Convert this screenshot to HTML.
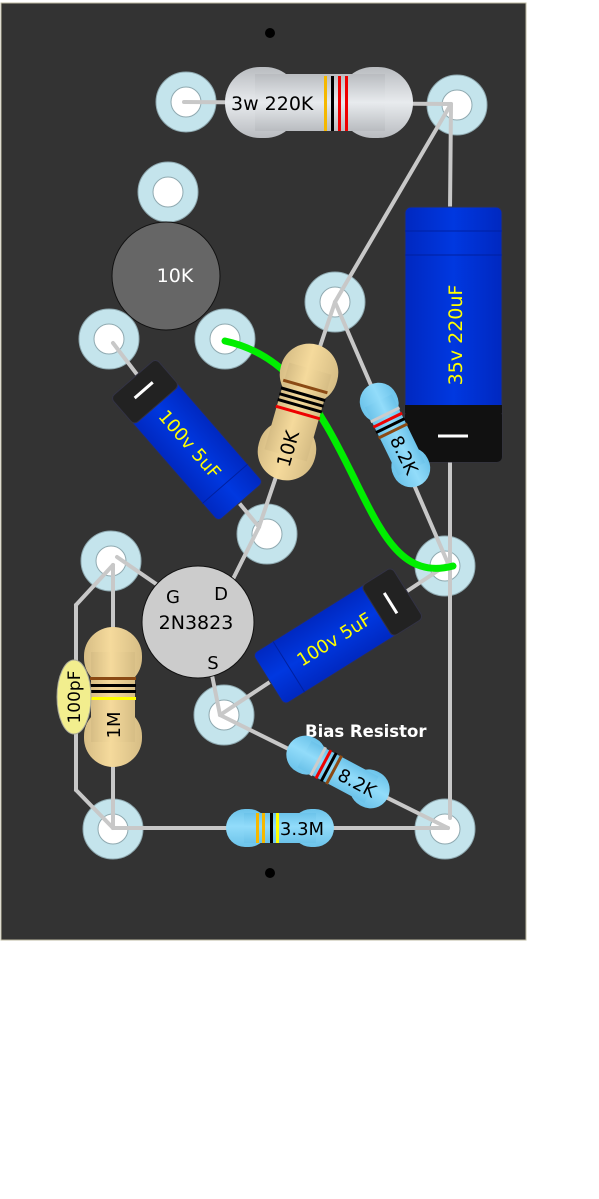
<!DOCTYPE html>
<html><head><meta charset="utf-8"><style>
body{margin:0;background:#fff;}
svg{display:block;font-family:"DejaVu Sans","Liberation Sans",sans-serif;}
</style></head><body>
<svg width="599" height="1199" viewBox="0 0 599 1199">
<defs>
<linearGradient id="gGrey" x1="0" y1="0" x2="0" y2="1"><stop offset="0" stop-color="#b9bcc0"/><stop offset="0.5" stop-color="#e8ebee"/><stop offset="1" stop-color="#b9bcc0"/></linearGradient>
<linearGradient id="gTan" x1="0" y1="0" x2="0" y2="1"><stop offset="0" stop-color="#d6bd85"/><stop offset="0.55" stop-color="#f5da9c"/><stop offset="1" stop-color="#d6bd85"/></linearGradient>
<linearGradient id="gBlue" x1="0" y1="0" x2="0" y2="1"><stop offset="0" stop-color="#6cc3ea"/><stop offset="0.45" stop-color="#92dcfa"/><stop offset="1" stop-color="#6cc3ea"/></linearGradient>
<linearGradient id="gCap" x1="0" y1="0" x2="0" y2="1"><stop offset="0" stop-color="#0028c0"/><stop offset="0.5" stop-color="#0038e0"/><stop offset="1" stop-color="#0028c0"/></linearGradient>
<linearGradient id="gCapV" x1="0" y1="0" x2="1" y2="0"><stop offset="0" stop-color="#0028c0"/><stop offset="0.5" stop-color="#0038e0"/><stop offset="1" stop-color="#0028c0"/></linearGradient>
</defs>
<rect x="1" y="3" width="525" height="937" fill="#333" stroke="#bdb9a0" stroke-width="1"/>
<circle cx="270" cy="33" r="5" fill="#000"/>
<circle cx="270" cy="873" r="5" fill="#000"/>

<g fill="#c4e4ec" stroke="#8fa9b0" stroke-width="1">
<circle cx="186" cy="102" r="30"/><circle cx="457" cy="105" r="30"/><circle cx="168" cy="192" r="30"/>
<circle cx="109" cy="339" r="30"/><circle cx="225" cy="339" r="30"/><circle cx="335" cy="302" r="30"/>
<circle cx="267" cy="534" r="30"/><circle cx="111" cy="561" r="30"/><circle cx="445" cy="566" r="30"/>
<circle cx="224" cy="715" r="30"/><circle cx="113" cy="829" r="30"/><circle cx="445" cy="829" r="30"/>
</g>
<g fill="#fff" stroke="#8fa9b0" stroke-width="1">
<circle cx="186" cy="102" r="15"/><circle cx="457" cy="105" r="15"/><circle cx="168" cy="192" r="15"/>
<circle cx="109" cy="339" r="15"/><circle cx="225" cy="339" r="15"/><circle cx="335" cy="302" r="15"/>
<circle cx="267" cy="534" r="15"/><circle cx="111" cy="561" r="15"/><circle cx="445" cy="566" r="15"/>
<circle cx="224" cy="715" r="15"/><circle cx="113" cy="829" r="15"/><circle cx="445" cy="829" r="15"/>
</g>

<g stroke="#c8c8c8" stroke-width="4" stroke-linecap="round" fill="none">
<line x1="184" y1="102" x2="451" y2="104"/>
<line x1="451" y1="104" x2="335" y2="302"/>
<line x1="451" y1="104" x2="450" y2="210"/>
<line x1="450" y1="460" x2="450" y2="818"/>
<line x1="335" y1="302" x2="298" y2="412"/>
<line x1="335" y1="302" x2="450" y2="568"/>
<line x1="298" y1="412" x2="259" y2="527"/>
<line x1="259" y1="527" x2="232" y2="581"/>
<line x1="113" y1="343" x2="187" y2="440"/>
<line x1="187" y1="440" x2="259" y2="527"/>
<line x1="117" y1="557" x2="162" y2="588"/>
<line x1="113" y1="565" x2="76" y2="605"/>
<line x1="76" y1="605" x2="76" y2="790"/>
<line x1="76" y1="790" x2="113" y2="828"/>
<line x1="113" y1="565" x2="113" y2="828"/>
<line x1="212" y1="675" x2="220" y2="715"/>
<line x1="220" y1="715" x2="448" y2="564"/>
<line x1="220" y1="715" x2="448" y2="828"/>
<line x1="113" y1="828" x2="448" y2="828"/>
</g>

<g>
<rect x="225" y="67" width="75" height="71" rx="35" fill="url(#gGrey)"/>
<rect x="338" y="67" width="75" height="71" rx="35" fill="url(#gGrey)"/>
<rect x="255" y="74" width="130" height="57" fill="url(#gGrey)"/>
<rect x="324" y="76" width="3" height="55" fill="#f5b800"/>
<rect x="331" y="76" width="3" height="55" fill="#000"/>
<rect x="338" y="76" width="3" height="55" fill="#e00"/>
<rect x="345" y="76" width="3" height="55" fill="#e00"/>
<text x="231" y="110" font-size="19" fill="#000">3w 220K</text>
</g>

<circle cx="166" cy="276" r="54" fill="#666" stroke="#111" stroke-width="1"/>
<text x="175" y="282" font-size="19" fill="#fff" text-anchor="middle">10K</text>

<g>
<rect x="405" y="207" width="97" height="255" rx="6" fill="url(#gCapV)" stroke="#334" stroke-width="1"/>
<rect x="405" y="410" width="97" height="52" rx="5" fill="#111"/>
<rect x="405" y="405" width="97" height="8" fill="#111"/>
<line x1="438" y1="436" x2="468" y2="436" stroke="#fff" stroke-width="3"/>
<line x1="405" y1="231" x2="502" y2="231" stroke="#0020a0" stroke-width="1"/>
<line x1="405" y1="255" x2="502" y2="255" stroke="#0020a0" stroke-width="1"/>
<text transform="translate(462,335) rotate(-90)" font-size="19" fill="#ff0" text-anchor="middle">35v 220uF</text>
</g>

<g transform="translate(187,440) rotate(49)">
<rect x="-82" y="-30" width="164" height="60" rx="5" fill="url(#gCap)" stroke="#334" stroke-width="1"/>
<rect x="-82" y="-30" width="36" height="60" rx="5" fill="#222" stroke="#334" stroke-width="1"/>
<line x1="-66" y1="-12" x2="-66" y2="12" stroke="#fff" stroke-width="3"/>
<line x1="58" y1="-30" x2="58" y2="30" stroke="#0020a0" stroke-width="1"/>
<text x="5" y="7" font-size="18" fill="#ff0" text-anchor="middle">100v 5uF</text>
</g>

<path d="M225,341 C290,355 320,410 350,470 C380,530 400,580 453,566" fill="none" stroke="#00ee00" stroke-width="7" stroke-linecap="round"/>

<g transform="translate(298,412) rotate(106)">
<rect x="-70" y="-29" width="60" height="58" rx="29" fill="url(#gTan)"/>
<rect x="10" y="-29" width="60" height="58" rx="29" fill="url(#gTan)"/>
<rect x="-45" y="-22" width="90" height="44" fill="url(#gTan)"/>
<rect x="-28" y="-23" width="3" height="46" fill="#8b4a14"/>
<rect x="-20" y="-23" width="3" height="46" fill="#000"/>
<rect x="-14" y="-23" width="3" height="46" fill="#000"/>
<rect x="-8" y="-23" width="3" height="46" fill="#000"/>
<rect x="-1" y="-23" width="3" height="46" fill="#e00"/>
<text transform="translate(38,0) rotate(180)" font-size="19" fill="#000" text-anchor="middle" dy="7">10K</text>
</g>

<g transform="translate(395,435) rotate(64)">
<rect x="-56" y="-19" width="40" height="38" rx="19" fill="url(#gBlue)"/>
<rect x="16" y="-19" width="40" height="38" rx="19" fill="url(#gBlue)"/>
<rect x="-38" y="-15" width="76" height="30" fill="url(#gBlue)"/>
<rect x="-24" y="-16" width="3" height="32" fill="#ccc"/>
<rect x="-18" y="-16" width="3" height="32" fill="#e00"/>
<rect x="-12" y="-16" width="3" height="32" fill="#000"/>
<rect x="-6" y="-16" width="3" height="32" fill="#8b4a14"/>
<text x="22" y="7" font-size="18" fill="#000" text-anchor="middle">8.2K</text>
</g>

<circle cx="198" cy="622" r="56" fill="#ccc" stroke="#111" stroke-width="1"/>
<text x="173" y="603" font-size="18" fill="#000" text-anchor="middle">G</text>
<text x="221" y="600" font-size="18" fill="#000" text-anchor="middle">D</text>
<text x="213" y="669" font-size="18" fill="#000" text-anchor="middle">S</text>
<text x="196" y="629" font-size="19" fill="#000" text-anchor="middle">2N3823</text>

<g transform="translate(113,697) rotate(90)">
<rect x="-70" y="-29" width="60" height="58" rx="29" fill="url(#gTan)"/>
<rect x="10" y="-29" width="60" height="58" rx="29" fill="url(#gTan)"/>
<rect x="-45" y="-22" width="90" height="44" fill="url(#gTan)"/>
<rect x="-20" y="-23" width="3" height="46" fill="#8b4a14"/>
<rect x="-13" y="-23" width="3" height="46" fill="#000"/>
<rect x="-7" y="-23" width="3" height="46" fill="#000"/>
<rect x="0" y="-23" width="3" height="46" fill="#ff0"/>
<text transform="translate(28,0) rotate(180)" font-size="18" fill="#000" text-anchor="middle" dy="7">1M</text>
</g>
<ellipse cx="74" cy="697" rx="17" ry="37" fill="#f2ee8e" stroke="#aa9" stroke-width="1"/>
<text transform="translate(80,697) rotate(-90)" font-size="17" fill="#000" text-anchor="middle">100pF</text>

<g transform="translate(338,636) rotate(-32)">
<rect x="-82" y="-30" width="164" height="60" rx="5" fill="url(#gCap)" stroke="#334" stroke-width="1"/>
<rect x="46" y="-30" width="36" height="60" rx="5" fill="#222" stroke="#334" stroke-width="1"/>
<line x1="62" y1="-12" x2="62" y2="12" stroke="#fff" stroke-width="3"/>
<line x1="-58" y1="-30" x2="-58" y2="30" stroke="#0020a0" stroke-width="1"/>
<text x="-5" y="7" font-size="18" fill="#ff0" text-anchor="middle">100v 5uF</text>
</g>

<text x="305" y="737" font-size="16.5" font-weight="bold" fill="#fff">Bias Resistor</text>
<g transform="translate(338,772) rotate(28)">
<rect x="-56" y="-19" width="40" height="38" rx="19" fill="url(#gBlue)"/>
<rect x="16" y="-19" width="40" height="38" rx="19" fill="url(#gBlue)"/>
<rect x="-38" y="-15" width="76" height="30" fill="url(#gBlue)"/>
<rect x="-24" y="-16" width="3" height="32" fill="#ccc"/>
<rect x="-18" y="-16" width="3" height="32" fill="#e00"/>
<rect x="-12" y="-16" width="3" height="32" fill="#000"/>
<rect x="-6" y="-16" width="3" height="32" fill="#8b4a14"/>
<text x="22" y="7" font-size="18" fill="#000" text-anchor="middle">8.2K</text>
</g>

<g transform="translate(280,828)">
<rect x="-54" y="-19" width="42" height="38" rx="19" fill="url(#gBlue)"/>
<rect x="12" y="-19" width="42" height="38" rx="19" fill="url(#gBlue)"/>
<rect x="-36" y="-15" width="72" height="30" fill="url(#gBlue)"/>
<rect x="-24" y="-15" width="3" height="30" fill="#f5b800"/>
<rect x="-18" y="-15" width="3" height="30" fill="#f5b800"/>
<rect x="-10" y="-15" width="3" height="30" fill="#000"/>
<rect x="-4" y="-15" width="3" height="30" fill="#ff0"/>
<text x="22" y="7" font-size="18" fill="#000" text-anchor="middle">3.3M</text>
</g>
</svg>
</body></html>
